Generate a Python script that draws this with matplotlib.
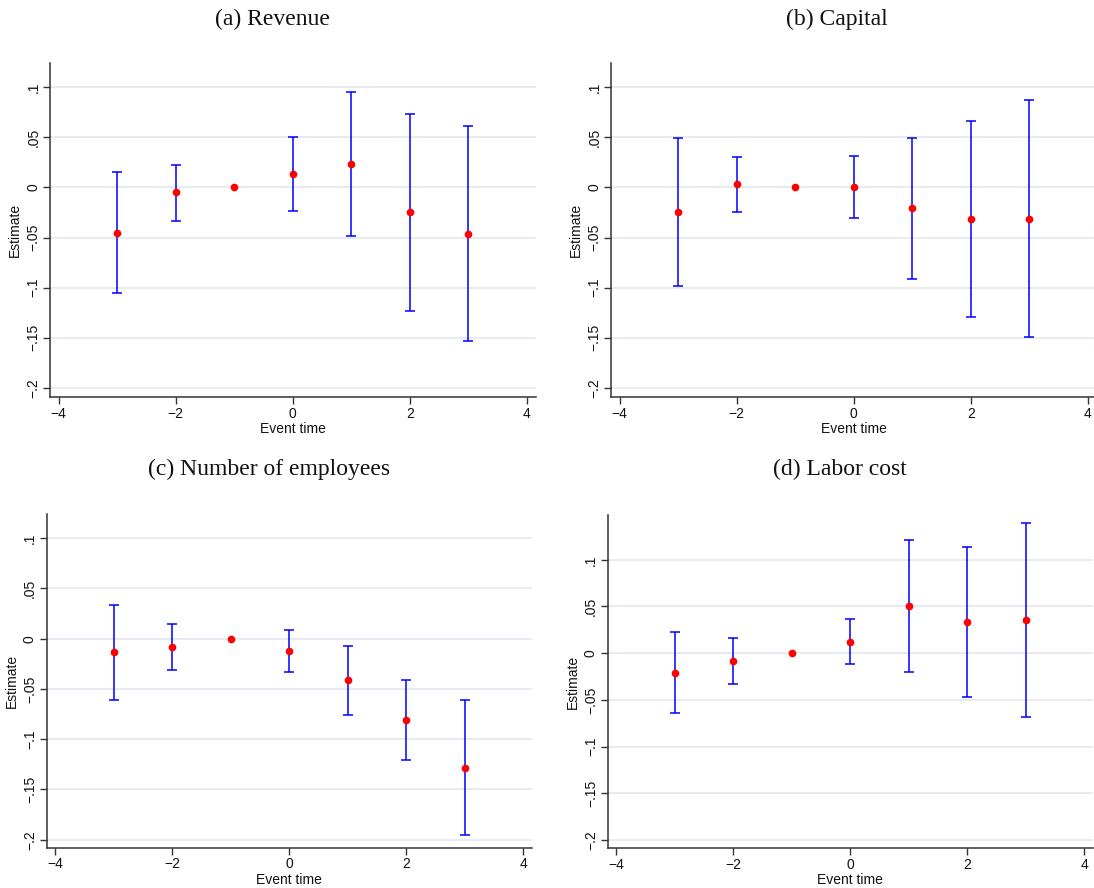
import numpy as np
import matplotlib
matplotlib.use('Agg')
import matplotlib.pyplot as plt

W, H = 1094, 888

event_time = [-3, -2, -1, 0, 1, 2, 3]

# (a) Revenue
revenue_est = [-0.045, -0.005, 0.0, 0.013, 0.0235, -0.025, -0.046]
revenue_lo = [-0.105, -0.0335, np.nan, -0.024, -0.048, -0.1235, -0.1535]
revenue_hi = [0.0153, 0.0226, np.nan, 0.050, 0.095, 0.0735, 0.0612]

# (b) Capital
capital_est = [-0.0245, 0.003, 0.0, 0.0, -0.021, -0.0315, -0.0315]
capital_lo = [-0.0985, -0.0245, np.nan, -0.0305, -0.091, -0.1295, -0.1495]
capital_hi = [0.0492, 0.0306, np.nan, 0.031, 0.0492, 0.066, 0.087]

# (c) Number of employees
employees_est = [-0.0136, -0.0083, 0.0, -0.0126, -0.0415, -0.081, -0.1284]
employees_lo = [-0.0607, -0.0309, np.nan, -0.0335, -0.0763, -0.121, -0.1957]
employees_hi = [0.0334, 0.0142, np.nan, 0.0083, -0.007, -0.0412, -0.061]

# (d) Labor cost
labor_est = [-0.0207, -0.0086, 0.0, 0.0124, 0.0504, 0.0339, 0.036]
labor_lo = [-0.0643, -0.0329, np.nan, -0.0118, -0.020, -0.0465, -0.068]
labor_hi = [0.0228, 0.016, np.nan, 0.0368, 0.121, 0.1139, 0.1396]

titles = ['(a) Revenue', '(b) Capital', '(c) Number of employees', '(d) Labor cost']
y_ticks = [-0.2, -0.15, -0.1, -0.05, 0, 0.05, 0.1]
y_tick_labels = ['\u2212.2', '\u2212.15', '\u2212.1', '\u2212.05', '0', '.05', '.1']
x_ticks = [-4, -2, 0, 2, 4]
x_tick_labels = ['\u22124', '\u22122', '0', '2', '4']

# panel boxes in pixels: left, top, right, bottom; then ylim and title centre
panels = [
    (revenue_est, revenue_lo, revenue_hi, (50, 63, 535.5, 397), (-0.209, 0.124), (272, 19)),
    (capital_est, capital_lo, capital_hi, (611, 63, 1096.5, 397), (-0.209, 0.124), (837, 19)),
    (employees_est, employees_lo, employees_hi, (46.7, 514, 532, 847.7), (-0.208, 0.124), (269, 469)),
    (labor_est, labor_lo, labor_hi, (607.7, 515, 1093, 848.3), (-0.209, 0.148), (840, 469)),
]

plt.rcParams['font.family'] = ['Liberation Sans', 'DejaVu Sans']
fig = plt.figure(figsize=(W / 100, H / 100), dpi=100)

for (est, lo, hi, box, ylim, title_pos), title in zip(panels, titles):
    left, top, right, bottom = box
    ax = fig.add_axes([left / W, 1 - bottom / H, (right - left) / W, (bottom - top) / H])
    est = np.array(est)
    lo = np.array(lo)
    hi = np.array(hi)
    x = np.array(event_time)
    has_ci = ~np.isnan(lo)
    ax.errorbar(x[has_ci], est[has_ci],
                yerr=[est[has_ci] - lo[has_ci], hi[has_ci] - est[has_ci]],
                fmt='none', ecolor='#0000ff', elinewidth=1.1, capsize=3.5,
                capthick=1.1, zorder=2)
    ax.plot(x, est, 'o', color='#ff0000', markersize=4.5, zorder=3)
    ax.set_xlim(-4.15, 4.15)
    ax.set_ylim(*ylim)
    ax.set_yticks(y_ticks)
    ax.set_yticklabels(y_tick_labels, rotation=90, va='center', fontsize=10)
    ax.set_xticks(x_ticks)
    ax.set_xticklabels(x_tick_labels, fontsize=10)
    ax.yaxis.grid(True, color='#e3e7f0', linewidth=1.2)
    ax.set_axisbelow(True)
    for side in ['top', 'right']:
        ax.spines[side].set_visible(False)
    for side in ['left', 'bottom']:
        ax.spines[side].set_color('#333333')
        ax.spines[side].set_linewidth(1.1)
    ax.tick_params(direction='out', length=5, width=1, color='#333333', pad=2, labelcolor='#111111')
    ax.set_xlabel('Event time', fontsize=10, labelpad=1, color='#111111')
    ax.set_ylabel('Estimate', fontsize=10, labelpad=3, color='#111111')
    fig.text(title_pos[0] / W, 1 - title_pos[1] / H, title, ha='center', va='center',
             fontsize=17, family='Liberation Serif', color='#111111')

fig.savefig('out.png', dpi=100)
